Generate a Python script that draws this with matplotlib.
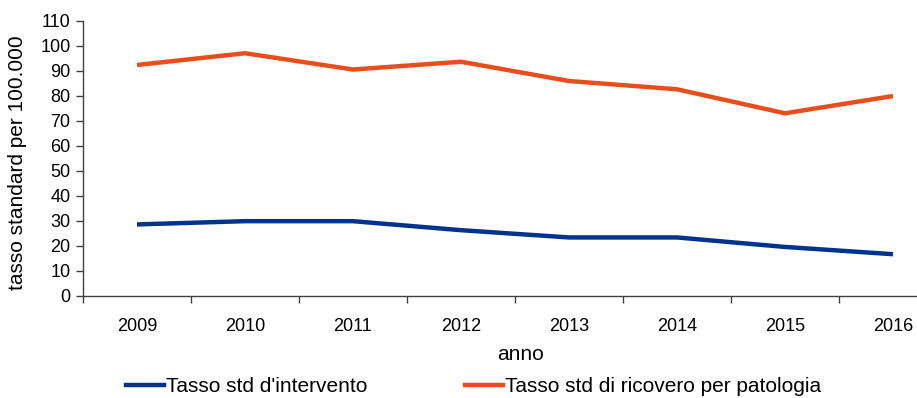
import matplotlib
matplotlib.use("Agg")
import matplotlib.pyplot as plt
from matplotlib.lines import Line2D

plt.rcParams['font.family'] = ['Liberation Sans', 'DejaVu Sans']

years = ['2009', '2010', '2011', '2012', '2013', '2014', '2015', '2016']
tasso_intervento = [28.6, 29.9, 29.9, 26.3, 23.4, 23.4, 19.6, 16.7]
tasso_ricovero = [92.3, 97.0, 90.5, 93.6, 85.9, 82.6, 73.0, 79.9]
y_ticks = list(range(0, 111, 10))

blue = '#00348C'
orange = '#E84E1C'

W, H = 917, 398
fig = plt.figure(figsize=(W / 100, H / 100), dpi=100)
# plot area (the category axis runs past the right edge of the canvas)
left, right, top, bottom = 83, 947, 20.7, 296
ax = fig.add_axes([left / W, (H - bottom) / H, (right - left) / W, (bottom - top) / H])

x = list(range(len(years)))
ax.plot(x, tasso_intervento, color=blue, lw=3.2, solid_capstyle='butt', solid_joinstyle='miter')
ax.plot(x, tasso_ricovero, color=orange, lw=3.2, solid_capstyle='butt', solid_joinstyle='miter')

ax.set_xlim(-0.5, len(years) - 0.5)
ax.set_ylim(0, 110)
ax.set_yticks(y_ticks)
ax.set_yticklabels([str(v) for v in y_ticks])

ax.set_xticks(x)
ax.set_xticklabels(years)
ax.set_xticks([i - 0.5 for i in range(len(years) + 1)], minor=True)
ax.tick_params(axis='x', which='major', length=0, pad=16, labelsize=13)
ax.tick_params(axis='x', which='minor', length=5, width=1, color='#404040', direction='out')
ax.tick_params(axis='y', length=5, width=1, color='#404040', direction='out', pad=4, labelsize=13)

for s in ['top', 'right']:
    ax.spines[s].set_visible(False)
for s in ['left', 'bottom']:
    ax.spines[s].set_color('#404040')
    ax.spines[s].set_linewidth(1)

fig.text(18 / W, (H - 163) / H, 'tasso standard per 100.000', rotation=90,
         ha='center', va='center', fontsize=15)
fig.text(520 / W, (H - 355) / H, 'anno', ha='center', va='center', fontsize=15)

# legend entries, placed individually
fs = 15
em = fs * 100 / 72
entries = [(Line2D([], [], color=blue, lw=3.2), "Tasso std d'intervento", 126),
           (Line2D([], [], color=orange, lw=3.2), 'Tasso std di ricovero per patologia', 465)]
for handle, label, xpix in entries:
    fig.legend([handle], [label], loc='center left',
               bbox_to_anchor=(xpix / W, (H - 387) / H),
               frameon=False, fontsize=fs, borderpad=0, borderaxespad=0,
               handlelength=38 / em, handletextpad=2 / em)

fig.savefig('out.png', dpi=100)
